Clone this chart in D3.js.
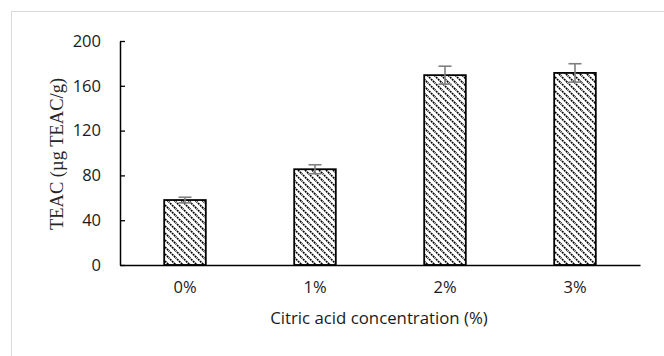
<!DOCTYPE html>
<html>
<head>
<meta charset="utf-8">
<script src="https://cdn.jsdelivr.net/npm/d3@7"></script>
<style>
  body { margin: 0; background: #fff; }
  .tick text { font-family: "Open Sans", sans-serif; font-size: 16.5px; fill: #1a1a1a; }
</style>
</head>
<body>
<div class="chart"></div>
<script>
var categories = ["0%", "1%", "2%", "3%"];
var teacValues = [58, 85.5, 169.5, 171.5];
var errorValues = [2.5, 4, 8, 8.2];
var yTicks = [0, 40, 80, 120, 160, 200];

var svgWidth = 664;
var svgHeight = 356;

var margin = {
  top: 41,
  right: 24,
  bottom: 91,
  left: 120
};

var width = svgWidth - margin.left - margin.right;
var height = svgHeight - margin.top - margin.bottom;

var svg = d3.select(".chart")
  .append("svg")
  .attr("width", svgWidth)
  .attr("height", svgHeight);

// light chart-area border
svg.append("rect")
  .attr("x", 11.5)
  .attr("y", 11.5)
  .attr("width", svgWidth)
  .attr("height", svgHeight)
  .attr("fill", "none")
  .attr("stroke", "#d9d9d9")
  .attr("stroke-width", 1);

// hatch pattern for the bars
var defs = svg.append("defs");
var pattern = defs.append("pattern")
  .attr("id", "hatch")
  .attr("patternUnits", "userSpaceOnUse")
  .attr("width", 7)
  .attr("height", 7);
pattern.append("rect")
  .attr("width", 7)
  .attr("height", 7)
  .attr("fill", "#fff");
pattern.append("path")
  .attr("d", "M-1,-1 L8,8 M-1,6 L1,8 M6,-1 L8,1")
  .attr("stroke", "#000")
  .attr("stroke-width", 1.6)
  .attr("stroke-dasharray", "2,0.8");

var chartGroup = svg.append("g")
  .attr("transform", `translate(${margin.left}, ${margin.top})`);

var xScale = d3.scaleBand()
  .domain(categories)
  .range([0, width])
  .paddingInner(0.68)
  .paddingOuter(0.34);

var yScale = d3.scaleLinear()
  .domain([0, 200])
  .range([height, 0]);

// y axis, ticks pointing inward
var yAxis = chartGroup.append("g")
  .call(d3.axisLeft(yScale).tickValues(yTicks).tickSizeInner(-5).tickSizeOuter(0).tickPadding(19));
yAxis.select(".domain").attr("stroke", "#000").attr("stroke-width", 1.5);
yAxis.selectAll(".tick line").attr("stroke", "#000").attr("stroke-width", 1.3);

// bars
chartGroup.selectAll(".bar")
  .data(teacValues)
  .enter()
  .append("rect")
  .attr("class", "bar")
  .attr("x", (d, i) => xScale(categories[i]))
  .attr("y", d => yScale(d))
  .attr("width", xScale.bandwidth())
  .attr("height", d => height - yScale(d))
  .attr("fill", "url(#hatch)")
  .attr("stroke", "#000")
  .attr("stroke-width", 1.8);

// x axis
var xAxis = chartGroup.append("g")
  .attr("transform", `translate(0, ${height})`)
  .call(d3.axisBottom(xScale).tickSize(0).tickPadding(16));
xAxis.select(".domain").attr("stroke", "#000").attr("stroke-width", 1.5);

// error bars
var errGroup = chartGroup.selectAll(".err")
  .data(teacValues)
  .enter()
  .append("g")
  .attr("class", "err")
  .attr("stroke", "#7f7f7f")
  .attr("stroke-width", 1.6);
errGroup.append("line")
  .attr("x1", (d, i) => xScale(categories[i]) + xScale.bandwidth() / 2)
  .attr("x2", (d, i) => xScale(categories[i]) + xScale.bandwidth() / 2)
  .attr("y1", (d, i) => yScale(d - errorValues[i]))
  .attr("y2", (d, i) => yScale(d + errorValues[i]));
errGroup.append("line")
  .attr("x1", (d, i) => xScale(categories[i]) + xScale.bandwidth() / 2 - 6.5)
  .attr("x2", (d, i) => xScale(categories[i]) + xScale.bandwidth() / 2 + 6.5)
  .attr("y1", (d, i) => yScale(d + errorValues[i]))
  .attr("y2", (d, i) => yScale(d + errorValues[i]));
errGroup.append("line")
  .attr("x1", (d, i) => xScale(categories[i]) + xScale.bandwidth() / 2 - 6.5)
  .attr("x2", (d, i) => xScale(categories[i]) + xScale.bandwidth() / 2 + 6.5)
  .attr("y1", (d, i) => yScale(d - errorValues[i]))
  .attr("y2", (d, i) => yScale(d - errorValues[i]));

// axis labels
chartGroup.append("text")
  .attr("transform", "rotate(-90)")
  .attr("y", 0 - margin.left + 63)
  .attr("x", 0 - 113)
  .attr("text-anchor", "middle")
  .attr("font-family", "'Liberation Serif', 'Times New Roman', serif")
  .attr("font-size", "18.5px")
  .attr("fill", "#262626")
  .text("TEAC (µg TEAC/g)");

chartGroup.append("text")
  .attr("transform", `translate(${width / 2 - 1}, ${height + 59})`)
  .attr("text-anchor", "middle")
  .attr("font-family", "'Open Sans', sans-serif")
  .attr("font-size", "16.8px")
  .attr("fill", "#1a1a1a")
  .text("Citric acid concentration (%)");
</script>
</body>
</html>
